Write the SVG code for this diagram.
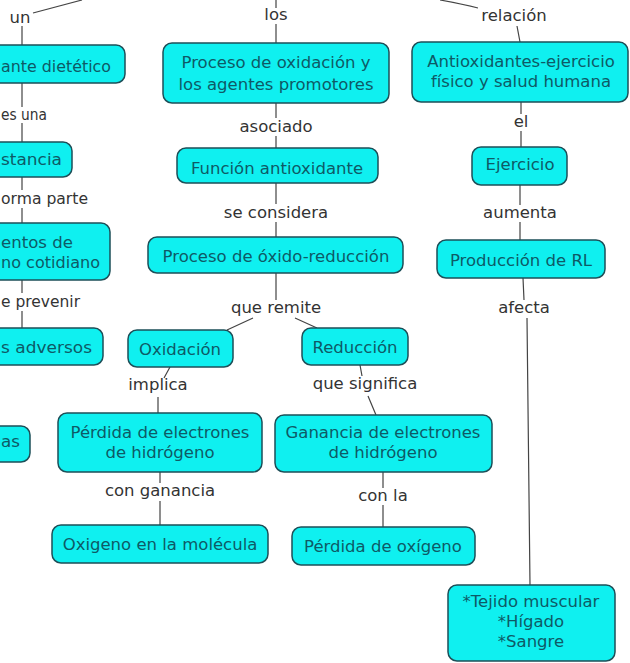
<svg xmlns="http://www.w3.org/2000/svg" width="630" height="663" viewBox="0 0 630 663">
<style>
.n rect{fill:#0ff0f0;stroke:#1d4f58;stroke-width:1.5}
.n text{font-family:"DejaVu Sans",Verdana,sans-serif;font-size:16.5px;fill:#0e5a66;text-anchor:middle}
.n text.s{text-anchor:start}
.l{font-family:"DejaVu Sans",Verdana,sans-serif;font-size:16.5px;fill:#333;text-anchor:middle}
.l.s{text-anchor:start}
#c path{fill:none;stroke:#444;stroke-width:1.2}
</style>
<rect width="630" height="663" fill="#fff"/>
<g id="c">
<path d="M33,13 L82,0"/>
<path d="M22,26 L22,45 M22,83 L22,107 M22,123 L22,142 M22,177 L22,190 M22,208 L22,223 M22,280 L22,293 M22,311 L22,328"/>
<path d="M276,0 L276,8 M276,24 L276,43 M276,103 L276,118 M276,136 L276,148 M276,183 L276,204 M276,222 L276,237 M276,273 L276,300"/>
<path d="M253,318 L227,330 M295,318 L317,328"/>
<path d="M170,367 L164,378 M158,397 L158,413"/>
<path d="M360,365 L362,376 M368,396 L376,415"/>
<path d="M160,472 L160,483 M160,501 L160,525"/>
<path d="M383,472 L383,488 M383,505 L383,527"/>
<path d="M440,0 Q462,4 478,8"/>
<path d="M517,26 L520,42 M521,102 L521,114 M521,131 L521,147 M520,185 L520,205 M520,222 L520,240 M523,278 L524,300 M527,318 L530,585"/>
</g>
<g class="l">
<text class="l" x="20" y="23">un</text>
<text class="l s" x="1" y="120" textLength="46" lengthAdjust="spacingAndGlyphs">es una</text>
<text class="l s" x="1" y="204" textLength="87" lengthAdjust="spacingAndGlyphs">orma parte</text>
<text class="l s" x="1" y="307" textLength="79" lengthAdjust="spacingAndGlyphs">e prevenir</text>
<text class="l" x="276" y="20">los</text>
<text class="l" x="276" y="132">asociado</text>
<text class="l" x="276" y="218">se considera</text>
<text class="l" x="276" y="313">que remite</text>
<text class="l" x="158" y="390">implica</text>
<text class="l" x="365" y="389">que significa</text>
<text class="l" x="160" y="496">con ganancia</text>
<text class="l" x="383" y="501">con la</text>
<text class="l" x="514" y="21">relación</text>
<text class="l" x="521" y="127">el</text>
<text class="l" x="520" y="218">aumenta</text>
<text class="l" x="524" y="313">afecta</text>
</g>
<g id="n1" class="n"><rect x="-10" y="45" width="135" height="38" rx="9"/><text class="s" x="1" y="72" textLength="110" lengthAdjust="spacingAndGlyphs">ante dietético</text></g>
<g id="n2" class="n"><rect x="-10" y="142" width="82" height="35" rx="9"/><text class="s" x="1" y="165" textLength="61" lengthAdjust="spacingAndGlyphs">stancia</text></g>
<g id="n3" class="n"><rect x="-10" y="223" width="120" height="57" rx="9"/><text class="s" x="1" y="248" textLength="72" lengthAdjust="spacingAndGlyphs">entos de</text><text class="s" x="1" y="268" textLength="99" lengthAdjust="spacingAndGlyphs">no cotidiano</text></g>
<g id="n4" class="n"><rect x="-10" y="328" width="113" height="37" rx="9"/><text class="s" x="1" y="353" textLength="91" lengthAdjust="spacingAndGlyphs">s adversos</text></g>
<g id="n5" class="n"><rect x="-10" y="426" width="40" height="36" rx="9"/><text class="s" x="1" y="447" textLength="19" lengthAdjust="spacingAndGlyphs">as</text></g>
<g id="n6" class="n"><rect x="163" y="43" width="226" height="60" rx="9"/><text x="276" y="68">Proceso de oxidación y</text><text x="276" y="90">los agentes promotores</text></g>
<g id="n7" class="n"><rect x="177" y="148" width="201" height="35" rx="9"/><text x="277" y="174">Función antioxidante</text></g>
<g id="n8" class="n"><rect x="148" y="237" width="255" height="36" rx="9"/><text x="276" y="262">Proceso de óxido-reducción</text></g>
<g id="n9" class="n"><rect x="128" y="330" width="105" height="37" rx="9"/><text x="180" y="355">Oxidación</text></g>
<g id="n10" class="n"><rect x="302" y="328" width="106" height="37" rx="9"/><text x="355" y="353">Reducción</text></g>
<g id="n11" class="n"><rect x="58" y="413" width="204" height="59" rx="9"/><text x="160" y="438">Pérdida de electrones</text><text x="160" y="458">de hidrógeno</text></g>
<g id="n12" class="n"><rect x="52" y="525" width="216" height="38" rx="9"/><text x="160" y="550">Oxigeno en la molécula</text></g>
<g id="n13" class="n"><rect x="275" y="415" width="217" height="57" rx="9"/><text x="383" y="438">Ganancia de electrones</text><text x="383" y="458">de hidrógeno</text></g>
<g id="n14" class="n"><rect x="292" y="527" width="183" height="38" rx="9"/><text x="383" y="552">Pérdida de oxígeno</text></g>
<g id="n15" class="n"><rect x="412" y="42" width="216" height="60" rx="9"/><text x="521" y="67">Antioxidantes-ejercicio</text><text x="521" y="87">físico y salud humana</text></g>
<g id="n16" class="n"><rect x="472" y="147" width="95" height="38" rx="9"/><text x="520" y="170">Ejercicio</text></g>
<g id="n17" class="n"><rect x="437" y="240" width="168" height="38" rx="9"/><text x="521" y="266">Producción de RL</text></g>
<g id="n18" class="n"><rect x="448" y="585" width="167" height="76" rx="9"/><text x="531" y="607">*Tejido muscular</text><text x="531" y="627">*Hígado</text><text x="531" y="647">*Sangre</text></g>
</svg>
